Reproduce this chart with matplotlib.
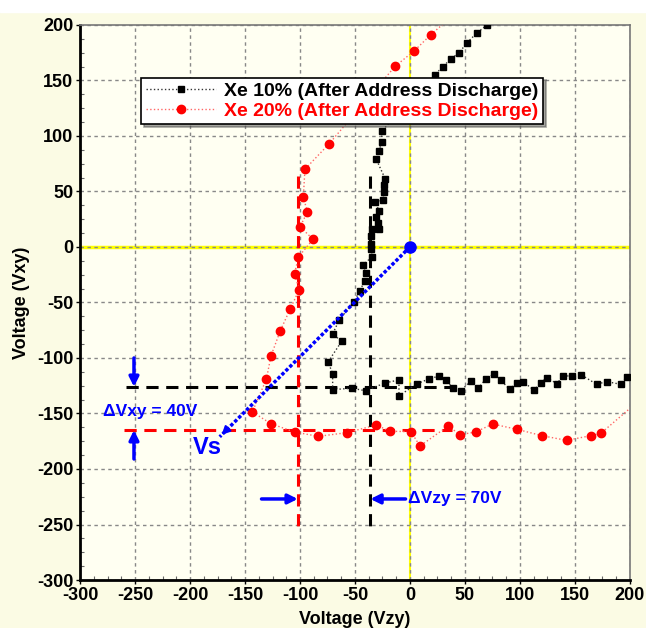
import numpy as np
import matplotlib
matplotlib.use('Agg')
import matplotlib.pyplot as plt
from matplotlib.ticker import MultipleLocator

plt.rcParams['font.family'] = ['Liberation Sans', 'DejaVu Sans']
plt.rcParams['font.weight'] = 'bold'
plt.rcParams['axes.unicode_minus'] = False

# Xe 10% (After Address Discharge)
xe10_x = [70.3, 60.6, 51.8, 44.8, 37.3, 30.0, 22.7, -25.8, -25.5, -28.5, -30.9, -22.5,
          -23.4, -23.6, -24.5, -31.5, -28.2, -31.2, -29.4, -28.2, -34.3, -35.5, -35.7,
          -35.1, -34.5, -42.4, -40.0, -41.2, -45.5, -51.0, -64.2, -70.3, -62.1, -74.5,
          -70.3, -70.3, -53.0, -40.3, -22.7, -10.0, -10.0, 6.0, 17.3, 26.7, 32.7, 38.8,
          46.4, 55.2, 62.1, 68.8, 76.4, 82.4, 90.6, 97.6, 103.0, 113.0, 118.8, 124.5,
          133.6, 139.4, 147.3, 156.0, 169.7, 179.0, 191.5, 197.0]
xe10_y = [200.0, 192.5, 183.8, 175.0, 169.4, 162.4, 155.2, 104.2, 94.3, 86.2, 79.5, 61.3,
          55.9, 49.8, 42.3, 40.2, 32.7, 27.3, 21.9, 15.9, 16.2, 9.6, 2.7,
          -2.1, -8.7, -16.2, -23.7, -30.6, -39.4, -49.5, -65.5, -78.4, -85.0, -103.6,
          -114.1, -128.5, -127.3, -129.5, -122.5, -119.8, -134.2, -123.4, -118.9, -116.2,
          -120.1, -126.7, -129.4, -121.0, -127.3, -119.2, -114.1, -119.8, -128.2, -122.2,
          -121.6, -129.1, -122.2, -117.7, -123.1, -116.2, -116.2, -115.3, -123.7, -121.3,
          -123.7, -117.1]

# Xe 20% (After Address Discharge)
xe20_x = [35.0, 18.8, 3.9, -13.4, -73.6, -95.5, -97.0, -93.2, -100.0, -88.1, -101.5,
          -105.0, -100.6, -109.0, -118.0, -126.4, -130.6, -143.4, -126.4, -105.0, -83.3,
          -57.6, -30.6, -18.2, 0.9, 9.1, 34.8, 45.5, 59.7, 75.2, 97.6, 120.0, 142.4,
          164.5, 173.6, 210.0]
xe20_y = [205.0, 191.0, 176.6, 162.8, 92.8, 70.0, 44.6, 31.5, 18.2, 6.9, -9.1,
          -24.6, -38.4, -56.0, -75.7, -98.2, -119.2, -148.6, -159.2, -166.7, -170.6,
          -167.3, -160.4, -166.0, -166.4, -179.3, -161.3, -169.1, -166.7, -159.5, -164.3,
          -170.0, -174.2, -170.0, -167.9, -137.0]

# reference levels
vxy_xe10 = -126
vxy_xe20 = -165
vzy_xe10 = -36
vzy_xe20 = -102
vs_end = (-173, -171)

fig = plt.figure(figsize=(6.46, 6.28), dpi=100, facecolor='#fbfbe4')
ax = fig.add_axes([0.124, 0.0764, 0.851, 0.884])
ax.set_facecolor('#fffff2')

ax.set_xlim(-300, 200)
ax.set_ylim(-300, 200)
ax.xaxis.set_major_locator(MultipleLocator(50))
ax.yaxis.set_major_locator(MultipleLocator(50))
ax.xaxis.set_minor_locator(MultipleLocator(12.5))
ax.yaxis.set_minor_locator(MultipleLocator(12.5))
ax.tick_params(which='major', direction='out', length=3, width=1, labelsize=13, pad=2)
ax.tick_params(which='minor', direction='in', length=3, width=0.8, color='#666666')
ax.grid(True, which='major', color='#888888', linestyle=(0, (2.5, 2.5)), linewidth=1)

for s in ['left', 'bottom']:
    ax.spines[s].set_linewidth(2)
    ax.spines[s].set_color('black')
for s in ['top', 'right']:
    ax.spines[s].set_linewidth(1.2)
    ax.spines[s].set_color('#777777')

ax.set_xlabel('Voltage (Vzy)', fontsize=13, fontweight='bold', labelpad=5)
ax.set_ylabel('Voltage (Vxy)', fontsize=13, fontweight='bold', labelpad=5)

# yellow zero lines
ax.axhline(0, color='#ffff00', lw=2.5, zorder=1.5)
ax.axvline(0, color='#ffff00', lw=1.5, zorder=1.5)

# data series
ax.plot(xe10_x, xe10_y, color='#333333', ls=':', lw=1, marker='s', ms=4.5,
        mfc='black', mec='black', label='Xe 10% (After Address Discharge)', zorder=4)
ax.plot(xe20_x, xe20_y, color='#ff6666', ls=':', lw=1, marker='o', ms=6,
        mfc='#ff0000', mec='#ff0000', label='Xe 20% (After Address Discharge)', zorder=4)

# dashed reference lines
dash = (0, (4, 2.5))
ax.plot([-258, 45], [vxy_xe10, vxy_xe10], color='black', lw=2.2, ls=dash, zorder=3)
ax.plot([-260, 38], [vxy_xe20, vxy_xe20], color='#ff0000', lw=2.2, ls=dash, zorder=3)
ax.plot([vzy_xe10, vzy_xe10], [64, -252], color='black', lw=2.2, ls=dash, zorder=3)
ax.plot([vzy_xe20, vzy_xe20], [64, -252], color='#ff0000', lw=2.2, ls=dash, zorder=3)

# Vs line
ax.plot([0, vs_end[0]], [0, vs_end[1]], color='#0000ff', lw=2.5, ls=(0, (1, 0.6)), zorder=5)
ax.annotate('', xy=vs_end, xytext=(vs_end[0] + 8, vs_end[1] + 8),
            arrowprops=dict(arrowstyle='-|>', color='#0000ff', lw=1.5, mutation_scale=12),
            zorder=5)
ax.plot(0, 0, 'o', color='#0000ff', ms=8, zorder=6)
ax.text(-184, -181, 'Vs', color='#0000ff', fontsize=17, fontweight='bold',
        ha='center', va='center')

# delta arrows
arrow = dict(arrowstyle='-|>', color='#0000ff', lw=2.5, mutation_scale=14, shrinkA=0, shrinkB=0)
ax.annotate('', xy=(-251, vxy_xe10), xytext=(-251, -100), arrowprops=arrow)
ax.annotate('', xy=(-251, vxy_xe20), xytext=(-251, -191), arrowprops=arrow)
ax.annotate('', xy=(vzy_xe20, -227), xytext=(-135, -227), arrowprops=arrow)
ax.annotate('', xy=(vzy_xe10, -227), xytext=(-4, -227), arrowprops=arrow)
ax.text(-279, -148.5, 'ΔVxy = 40V', color='#0000ff', fontsize=12.5, fontweight='bold',
        ha='left', va='center')
ax.text(-2, -227, 'ΔVzy = 70V', color='#0000ff', fontsize=12.5, fontweight='bold',
        ha='left', va='center')

leg = ax.legend(loc='upper left', bbox_to_anchor=(0.111, 0.905), fontsize=14,
                handlelength=3.6, frameon=True, fancybox=False, shadow=True,
                edgecolor='black', framealpha=1, borderpad=0.25, labelspacing=0.1,
                handletextpad=0.4, borderaxespad=0)
leg.get_frame().set_linewidth(1.2)
for t, c in zip(leg.get_texts(), ['black', '#ff0000']):
    t.set_color(c)
    t.set_fontweight('bold')
leg.set_zorder(10)

fig.patches.append(plt.Rectangle((0, 0.981), 1, 0.02, transform=fig.transFigure,
                                 color='white', zorder=0))

fig.savefig('out.png', dpi=100, facecolor=fig.get_facecolor())
